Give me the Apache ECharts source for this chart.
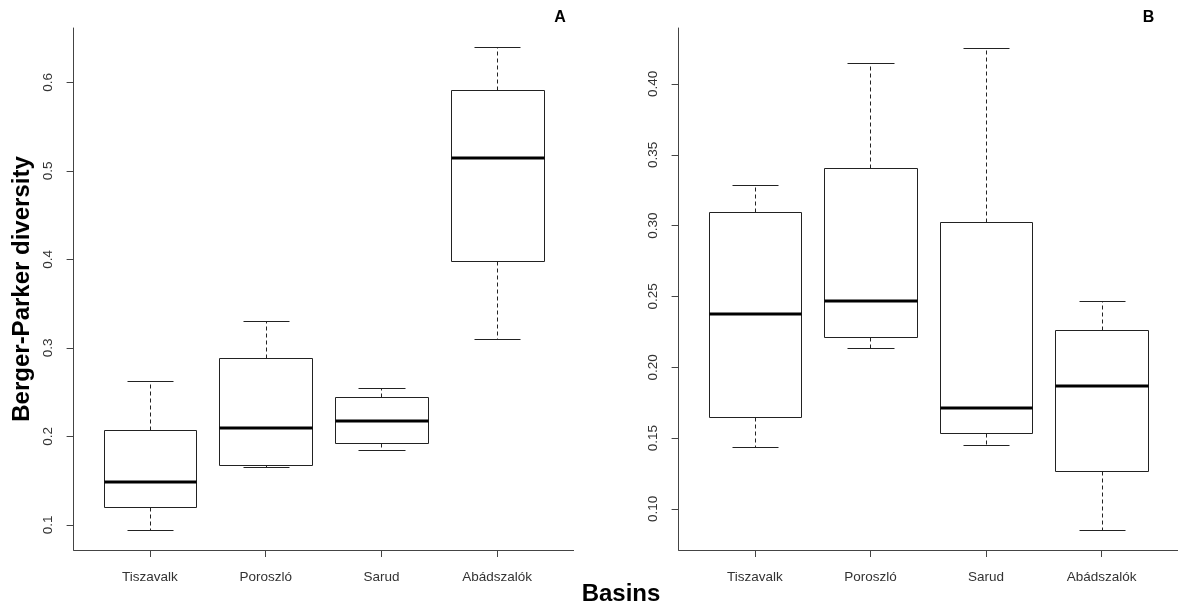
<!DOCTYPE html>
<html>
<head>
<meta charset="utf-8">
<script src="https://cdn.jsdelivr.net/npm/echarts@6/dist/echarts.min.js"></script>
<style>
  html, body { margin: 0; padding: 0; background: #fff; }
  #chart { width: 1178px; height: 610px; }
</style>
</head>
<body>
<div id="chart"></div>
<script>
const basins = ['Tiszavalk', 'Poroszló', 'Sarud', 'Abádszalók'];

// each row: [position, lower whisker, Q1, median, Q3, upper whisker]
const panelA = [
  [1, 0.094, 0.120, 0.148, 0.207, 0.262],
  [2, 0.165, 0.168, 0.209, 0.288, 0.330],
  [3, 0.185, 0.192, 0.217, 0.244, 0.255],
  [4, 0.310, 0.398, 0.515, 0.591, 0.640]
];
const panelB = [
  [1, 0.1435, 0.1647, 0.2375, 0.3096, 0.3287],
  [2, 0.2135, 0.2213, 0.2467, 0.3407, 0.4150],
  [3, 0.1449, 0.1536, 0.1713, 0.3026, 0.4256],
  [4, 0.0848, 0.1265, 0.1866, 0.2260, 0.2469]
];

const ticksA = [0.1, 0.2, 0.3, 0.4, 0.5, 0.6];
const ticksB = [0.10, 0.15, 0.20, 0.25, 0.30, 0.35, 0.40];
const basinTicks = [1, 2, 3, 4];

const chart = echarts.init(document.getElementById('chart'));

const axisColor = '#444';
const labelFont = { color: '#333', fontSize: 13.5, fontFamily: 'Liberation Sans, Arial, sans-serif' };

// R-style box: dashed whiskers, solid caps, thick median
const renderBox = (params, api) => {
  const x = api.value(0);
  const lo = api.value(1), q1 = api.value(2), med = api.value(3), q3 = api.value(4), hi = api.value(5);
  const px = v => Math.round(v) + 0.5;
  const xl = px(api.coord([x - 0.4, 0])[0]);
  const xr = px(api.coord([x + 0.4, 0])[0]);
  const xc = px(api.coord([x, 0])[0]);
  const cl = px(api.coord([x - 0.2, 0])[0]);
  const cr = px(api.coord([x + 0.2, 0])[0]);
  const y = v => px(api.coord([x, v])[1]);
  const ym = Math.round(api.coord([x, med])[1]);
  const stroke = { stroke: '#222', lineWidth: 1, fill: null };
  const dashed = { stroke: '#222', lineWidth: 1, lineDash: [4, 3] };
  return {
    type: 'group',
    children: [
      { type: 'line', shape: { x1: xc, y1: y(q3), x2: xc, y2: y(hi) }, style: dashed },
      { type: 'line', shape: { x1: xc, y1: y(q1), x2: xc, y2: y(lo) }, style: dashed },
      { type: 'line', shape: { x1: cl, y1: y(hi), x2: cr, y2: y(hi) }, style: stroke },
      { type: 'line', shape: { x1: cl, y1: y(lo), x2: cr, y2: y(lo) }, style: stroke },
      { type: 'rect', shape: { x: xl, y: y(q3), width: xr - xl, height: y(q1) - y(q3) },
        style: { stroke: '#222', lineWidth: 1, fill: '#fff' } },
      { type: 'line', shape: { x1: xl, y1: ym, x2: xr, y2: ym },
        style: { stroke: '#000', lineWidth: 3 } }
    ]
  };
};

const makeX = gridIndex => ({
  type: 'value',
  gridIndex,
  min: 0.34,
  max: 4.66,
  splitLine: { show: false },
  axisLine: { onZero: false, lineStyle: { color: axisColor, width: 1 } },
  axisTick: { customValues: basinTicks, length: 7, lineStyle: { color: axisColor } },
  axisLabel: {
    customValues: basinTicks,
    margin: 20,
    formatter: v => basins[Math.round(v) - 1],
    ...labelFont
  }
});

const makeY = (gridIndex, min, max, ticks, digits) => ({
  type: 'value',
  gridIndex,
  min,
  max,
  splitLine: { show: false },
  axisLine: { onZero: false, lineStyle: { color: axisColor, width: 1 } },
  axisTick: { customValues: ticks, length: 7, lineStyle: { color: axisColor } },
  axisLabel: {
    customValues: ticks,
    rotate: 90,
    margin: 18,
    formatter: v => v.toFixed(digits),
    ...labelFont
  }
});

const titleFont = 'bold 24px "Liberation Sans", Arial, sans-serif';

const option = {
  animation: false,
  grid: [
    { left: 73.6, top: 28, width: 500, height: 522 },
    { left: 678.6, top: 28, width: 499.4, height: 522 }
  ],
  xAxis: [makeX(0), makeX(1)],
  yAxis: [
    makeY(0, 0.0715, 0.6615, ticksA, 1),
    makeY(1, 0.071, 0.4395, ticksB, 2)
  ],
  series: [
    { type: 'custom', xAxisIndex: 0, yAxisIndex: 0, renderItem: renderBox,
      encode: { x: 0, y: [1, 2, 3, 4, 5] }, data: panelA },
    { type: 'custom', xAxisIndex: 1, yAxisIndex: 1, renderItem: renderBox,
      encode: { x: 0, y: [1, 2, 3, 4, 5] }, data: panelB }
  ],
  graphic: [
    { type: 'text', x: 22, y: 289, rotation: Math.PI / 2,
      style: { text: 'Berger-Parker diversity', font: titleFont, fill: '#000', textAlign: 'center', textVerticalAlign: 'middle' } },
    { type: 'text', x: 621, y: 594,
      style: { text: 'Basins', font: titleFont, fill: '#000', textAlign: 'center', textVerticalAlign: 'middle' } },
    { type: 'text', x: 560, y: 18,
      style: { text: 'A', font: 'bold 16px "Liberation Sans", Arial, sans-serif', fill: '#000', textAlign: 'center', textVerticalAlign: 'middle' } },
    { type: 'text', x: 1148.5, y: 18,
      style: { text: 'B', font: 'bold 16px "Liberation Sans", Arial, sans-serif', fill: '#000', textAlign: 'center', textVerticalAlign: 'middle' } }
  ]
};

chart.setOption(option);
</script>
</body>
</html>
